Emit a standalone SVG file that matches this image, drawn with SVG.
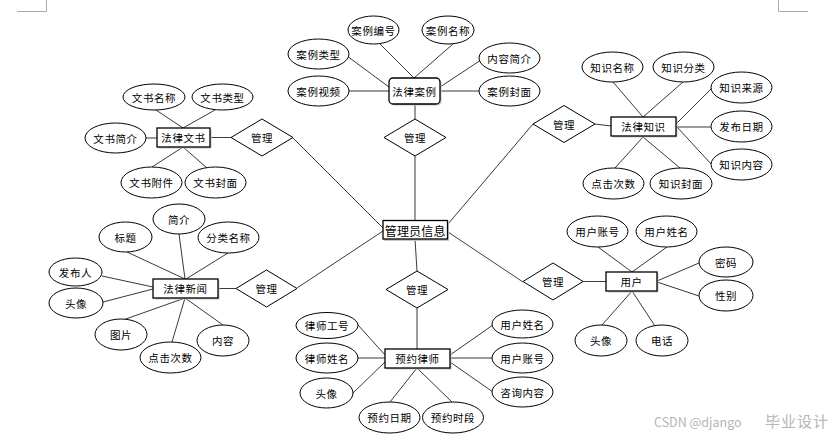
<svg xmlns="http://www.w3.org/2000/svg" width="840" height="441" viewBox="0 0 840 441">
<style>
.e{fill:#fff;stroke:#000;stroke-width:1}
.b{fill:#fff;stroke:#000;stroke-width:1.3}
.s{fill:#c8c8c8;stroke:none}
.d{fill:#fff;stroke:#000;stroke-width:1}
.c line{stroke:#222;stroke-width:0.9}
text{font-family:"Noto Sans CJK SC","Noto Sans",sans-serif;font-size:10.5px;fill:#000;text-anchor:middle;dominant-baseline:central;letter-spacing:0.6px}
.big{font-size:12px;letter-spacing:0.2px}
.crop{stroke:#aaa;stroke-width:1;fill:none}
.wm{fill:#b5b5b5;text-anchor:start;letter-spacing:0}
</style>
<rect width="840" height="441" fill="#fff"/>
<path class="crop" d="M17 11.5H46.5V0M778.5 0V11.5H808"/>
<g id="connectors" class="c">
<line x1="415" y1="104" x2="415" y2="119"/>
<line x1="415" y1="156" x2="415" y2="220"/>
<line x1="210" y1="137.5" x2="231" y2="137.5"/>
<line x1="293" y1="138" x2="383" y2="228"/>
<line x1="218" y1="288.5" x2="236" y2="288.5"/>
<line x1="297" y1="288" x2="383" y2="231"/>
<line x1="415" y1="239" x2="417" y2="271"/>
<line x1="417" y1="308" x2="417" y2="349"/>
<line x1="448" y1="232" x2="523" y2="282"/>
<line x1="583" y1="281.5" x2="606" y2="281.5"/>
<line x1="448" y1="224" x2="533" y2="124"/>
<line x1="595" y1="124" x2="611" y2="126"/>
<line x1="380" y1="44" x2="414" y2="78"/>
<line x1="453" y1="44" x2="414" y2="78"/>
<line x1="347" y1="56" x2="389" y2="87"/>
<line x1="349" y1="91" x2="389" y2="91"/>
<line x1="481" y1="60" x2="440" y2="87"/>
<line x1="440" y1="91" x2="479" y2="91"/>
<line x1="156" y1="110" x2="183" y2="128"/>
<line x1="215" y1="110" x2="183" y2="128"/>
<line x1="146" y1="138" x2="157" y2="138"/>
<line x1="152" y1="167" x2="183" y2="147"/>
<line x1="207" y1="168" x2="183" y2="147"/>
<line x1="179" y1="234" x2="185" y2="279"/>
<line x1="127" y1="252" x2="185" y2="279"/>
<line x1="228" y1="253" x2="186" y2="279"/>
<line x1="102" y1="276" x2="153" y2="287"/>
<line x1="103" y1="302" x2="153" y2="289"/>
<line x1="123" y1="320" x2="185" y2="298"/>
<line x1="172" y1="342" x2="185" y2="298"/>
<line x1="223" y1="325" x2="185" y2="298"/>
<line x1="358" y1="325" x2="385" y2="355"/>
<line x1="358" y1="358" x2="385" y2="358"/>
<line x1="353" y1="393" x2="385" y2="362"/>
<line x1="390" y1="402" x2="417" y2="368"/>
<line x1="452" y1="402" x2="417" y2="368"/>
<line x1="493" y1="325" x2="450" y2="355"/>
<line x1="450" y1="358" x2="492" y2="358"/>
<line x1="493" y1="392" x2="450" y2="362"/>
<line x1="598" y1="247" x2="632" y2="272"/>
<line x1="667" y1="247" x2="632" y2="272"/>
<line x1="699" y1="263" x2="657" y2="281"/>
<line x1="699" y1="296" x2="657" y2="282"/>
<line x1="602" y1="325" x2="632" y2="291"/>
<line x1="655" y1="326" x2="632" y2="291"/>
<line x1="613" y1="82" x2="643" y2="117"/>
<line x1="683" y1="82" x2="643" y2="117"/>
<line x1="712" y1="88" x2="677" y2="123"/>
<line x1="677" y1="127" x2="711" y2="127"/>
<line x1="712" y1="165" x2="677" y2="127"/>
<line x1="615" y1="168" x2="643" y2="137"/>
<line x1="680" y1="168" x2="643" y2="137"/>
</g>
<g id="admin"><rect class="s" x="384" y="222" width="65" height="19"/><rect class="b" x="383" y="220.5" width="64.5" height="18.5"/><text class="big" x="415.2" y="230">管理员信息</text></g>
<g id="case"><rect class="s" x="390.5" y="79.5" width="51" height="26" rx="4"/><rect class="b" x="389" y="78" width="51" height="26" rx="4"/><text x="414.5" y="91">法律案例</text></g>
<g id="case-no"><ellipse class="e" cx="373.5" cy="30" rx="25.5" ry="14"/><text x="373.5" y="30">案例编号</text></g>
<g id="case-name"><ellipse class="e" cx="448" cy="30" rx="26" ry="14"/><text x="448" y="30">案例名称</text></g>
<g id="case-type"><ellipse class="e" cx="318.5" cy="54" rx="30.5" ry="15"/><text x="318.5" y="54">案例类型</text></g>
<g id="case-video"><ellipse class="e" cx="318.5" cy="91" rx="30.5" ry="15"/><text x="318.5" y="91">案例视频</text></g>
<g id="case-intro"><ellipse class="e" cx="509.5" cy="58" rx="30.5" ry="15"/><text x="509.5" y="58">内容简介</text></g>
<g id="case-cover"><ellipse class="e" cx="509.5" cy="91" rx="30.5" ry="15"/><text x="509.5" y="91">案例封面</text></g>
<g id="rel-case"><polygon class="d" points="415,119 446,137.5 415,156 384,137.5"/><text x="415" y="137.5">管理</text></g>
<g id="doc"><rect class="s" x="158.5" y="129.5" width="53" height="19"/><rect class="b" x="157" y="128" width="53" height="19"/><text x="183.5" y="137.5">法律文书</text></g>
<g id="doc-name"><ellipse class="e" cx="154" cy="97" rx="31" ry="13"/><text x="154" y="97">文书名称</text></g>
<g id="doc-type"><ellipse class="e" cx="222.5" cy="97" rx="30.5" ry="13"/><text x="222.5" y="97">文书类型</text></g>
<g id="doc-intro"><ellipse class="e" cx="115.5" cy="138" rx="30.5" ry="15"/><text x="115.5" y="138">文书简介</text></g>
<g id="doc-file"><ellipse class="e" cx="151.5" cy="182.5" rx="30.5" ry="15.5"/><text x="151.5" y="182.5">文书附件</text></g>
<g id="doc-cover"><ellipse class="e" cx="215.5" cy="182.5" rx="30.5" ry="15.5"/><text x="215.5" y="182.5">文书封面</text></g>
<g id="rel-doc"><polygon class="d" points="262,119 293,137.5 262,156 231,137.5"/><text x="262" y="137.5">管理</text></g>
<g id="news"><rect class="s" x="154.5" y="280.5" width="65" height="19"/><rect class="b" x="153" y="279" width="65" height="19"/><text x="185.5" y="288.5">法律新闻</text></g>
<g id="news-brief"><ellipse class="e" cx="179" cy="219" rx="26" ry="15"/><text x="179" y="219">简介</text></g>
<g id="news-title"><ellipse class="e" cx="125.5" cy="237" rx="26.5" ry="15"/><text x="125.5" y="237">标题</text></g>
<g id="news-cat"><ellipse class="e" cx="228.5" cy="237.5" rx="30.5" ry="15.5"/><text x="228.5" y="237.5">分类名称</text></g>
<g id="news-pub"><ellipse class="e" cx="75.5" cy="272" rx="26.5" ry="14"/><text x="75.5" y="272">发布人</text></g>
<g id="news-avatar"><ellipse class="e" cx="76" cy="303" rx="27" ry="15"/><text x="76" y="303">头像</text></g>
<g id="news-img"><ellipse class="e" cx="121" cy="334.5" rx="26" ry="15.5"/><text x="121" y="334.5">图片</text></g>
<g id="news-clicks"><ellipse class="e" cx="170.5" cy="357.5" rx="30.5" ry="15.5"/><text x="170.5" y="357.5">点击次数</text></g>
<g id="news-content"><ellipse class="e" cx="223" cy="340.5" rx="26" ry="15.5"/><text x="223" y="340.5">内容</text></g>
<g id="rel-news"><polygon class="d" points="266.5,270 297,288.5 266.5,307 236,288.5"/><text x="266.5" y="288.5">管理</text></g>
<g id="booking"><rect class="s" x="386.5" y="350.5" width="65" height="19"/><rect class="b" x="385" y="349" width="65" height="19"/><text x="417.5" y="358.5">预约律师</text></g>
<g id="bk-lawyer-no"><ellipse class="e" cx="327" cy="325.5" rx="31" ry="13"/><text x="327" y="325.5">律师工号</text></g>
<g id="bk-lawyer-name"><ellipse class="e" cx="327" cy="358" rx="31" ry="15"/><text x="327" y="358">律师姓名</text></g>
<g id="bk-avatar"><ellipse class="e" cx="326.5" cy="393" rx="26.5" ry="15"/><text x="326.5" y="393">头像</text></g>
<g id="bk-date"><ellipse class="e" cx="389.5" cy="417.5" rx="30.5" ry="15.5"/><text x="389.5" y="417.5">预约日期</text></g>
<g id="bk-slot"><ellipse class="e" cx="453" cy="417.5" rx="30.5" ry="15.5"/><text x="453" y="417.5">预约时段</text></g>
<g id="bk-user-name"><ellipse class="e" cx="522.5" cy="324" rx="30.5" ry="14"/><text x="522.5" y="324">用户姓名</text></g>
<g id="bk-user-acc"><ellipse class="e" cx="522.5" cy="358" rx="30.5" ry="15"/><text x="522.5" y="358">用户账号</text></g>
<g id="bk-consult"><ellipse class="e" cx="522.5" cy="392" rx="30.5" ry="15"/><text x="522.5" y="392">咨询内容</text></g>
<g id="rel-booking"><polygon class="d" points="417,271 448,289.5 417,308 386,289.5"/><text x="417" y="289.5">管理</text></g>
<g id="user"><rect class="s" x="607.5" y="273.5" width="51" height="19"/><rect class="b" x="606" y="272" width="51" height="19"/><text x="631.5" y="281.5">用户</text></g>
<g id="user-acc"><ellipse class="e" cx="597.5" cy="231.5" rx="30.5" ry="15.5"/><text x="597.5" y="231.5">用户账号</text></g>
<g id="user-name"><ellipse class="e" cx="666.5" cy="231.5" rx="30.5" ry="15.5"/><text x="666.5" y="231.5">用户姓名</text></g>
<g id="user-pwd"><ellipse class="e" cx="726" cy="262" rx="27" ry="15"/><text x="726" y="262">密码</text></g>
<g id="user-sex"><ellipse class="e" cx="726" cy="295.5" rx="27" ry="15.5"/><text x="726" y="295.5">性别</text></g>
<g id="user-avatar"><ellipse class="e" cx="601" cy="340.5" rx="26" ry="15.5"/><text x="601" y="340.5">头像</text></g>
<g id="user-phone"><ellipse class="e" cx="662" cy="340.5" rx="26" ry="15.5"/><text x="662" y="340.5">电话</text></g>
<g id="rel-user"><polygon class="d" points="553,263 583,281.5 553,300 523,281.5"/><text x="553" y="281.5">管理</text></g>
<g id="know"><rect class="s" x="612.5" y="118.5" width="65" height="19"/><rect class="b" x="611" y="117" width="65" height="19"/><text x="643.5" y="126.5">法律知识</text></g>
<g id="know-name"><ellipse class="e" cx="612.5" cy="67" rx="30.5" ry="15"/><text x="612.5" y="67">知识名称</text></g>
<g id="know-cat"><ellipse class="e" cx="683.5" cy="67" rx="30.5" ry="15"/><text x="683.5" y="67">知识分类</text></g>
<g id="know-src"><ellipse class="e" cx="741.5" cy="87.5" rx="30.5" ry="15.5"/><text x="741.5" y="87.5">知识来源</text></g>
<g id="know-date"><ellipse class="e" cx="741.5" cy="126.5" rx="30.5" ry="15.5"/><text x="741.5" y="126.5">发布日期</text></g>
<g id="know-content"><ellipse class="e" cx="741.5" cy="164.5" rx="30.5" ry="15.5"/><text x="741.5" y="164.5">知识内容</text></g>
<g id="know-clicks"><ellipse class="e" cx="613.5" cy="183.5" rx="30.5" ry="15.5"/><text x="613.5" y="183.5">点击次数</text></g>
<g id="know-cover"><ellipse class="e" cx="681" cy="183.5" rx="31" ry="15.5"/><text x="681" y="183.5">知识封面</text></g>
<g id="rel-know"><polygon class="d" points="564,105.5 595,124 564,142.5 533,124"/><text x="564" y="124">管理</text></g>
<text class="wm" x="654" y="421" style="font-size:12.5px">CSDN @django</text>
<text class="wm" x="765" y="420" style="font-size:15px;letter-spacing:1px">毕业设计</text>
</svg>
